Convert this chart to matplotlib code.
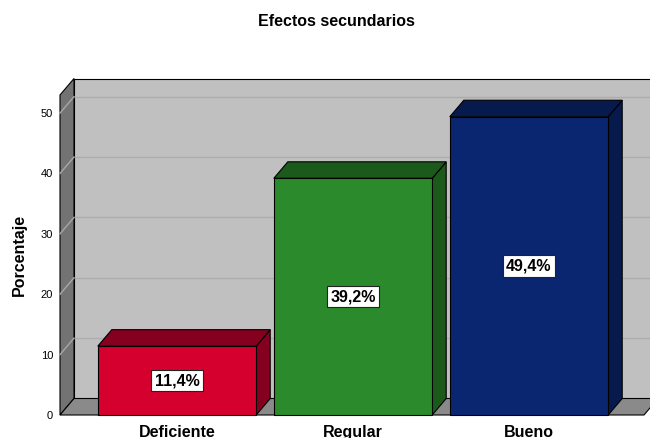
import matplotlib
matplotlib.use("Agg")
import matplotlib.pyplot as plt
from matplotlib.patches import Polygon, Rectangle

categories = ["Deficiente", "Regular", "Bueno"]
values = [11.4, 39.2, 49.4]
labels = ["11,4%", "39,2%", "49,4%"]
yticks = [0, 10, 20, 30, 40, 50]

front_colors = ["#d6002f", "#2b8a2b", "#0a2671"]
dark_colors = ["#85001f", "#1c5a1c", "#061a4e"]

plt.rcParams['font.family'] = ['Liberation Sans', 'DejaVu Sans']

W, H = 650, 438
fig = plt.figure(figsize=(W / 100, H / 100), dpi=100)
left_px, right_px, bottom_px, top_px = 60, 644, 415, 95
px_per_x = 176.0
xmin = -117 / px_per_x
xmax = xmin + (right_px - left_px) / px_per_x
ax = fig.add_axes([left_px / W, (H - bottom_px) / H, (right_px - left_px) / W, (bottom_px - top_px) / H])
ax.patch.set_alpha(0)
ymax = 53.0
ax.set_xlim(xmin, xmax)
ax.set_ylim(0, ymax)

px_per_y = (bottom_px - top_px) / ymax
dx = 14 / px_per_x
dy = 16.5 / px_per_y

lw = 0.8
# back wall
ax.add_patch(Rectangle((xmin + dx, dy), (xmax - xmin) + 1, ymax, facecolor="#c0c0c0",
                       edgecolor="black", lw=lw, clip_on=False, zorder=1))
for t in yticks[1:]:
    ax.plot([xmin + dx, xmax + 1], [t + dy, t + dy], color="#acacac", lw=1.0, clip_on=False, zorder=1.5)
    ax.plot([xmin, xmin + dx], [t, t + dy], color="#a8a8a8", lw=1.0, clip_on=False, zorder=2.5)
# left wall
ax.add_patch(Polygon([(xmin, 0), (xmin + dx, dy), (xmin + dx, ymax + dy), (xmin, ymax)],
                     closed=True, facecolor="#737373", edgecolor="black", lw=lw, clip_on=False, zorder=2))
# floor
ax.add_patch(Polygon([(xmin, 0), (xmax, 0), (xmax + dx, dy), (xmin + dx, dy)],
                     closed=True, facecolor="#8a8a8a", edgecolor="black", lw=lw, clip_on=False, zorder=2))

bw = 0.9
for i, (v, fc, dc, lab) in enumerate(zip(values, front_colors, dark_colors, labels)):
    x0, x1 = i - bw / 2, i + bw / 2
    ax.add_patch(Polygon([(x1, 0), (x1, v), (x1 + dx, v + dy), (x1 + dx, dy)], closed=True,
                         facecolor=dc, edgecolor="black", lw=lw, clip_on=False, zorder=3))
    ax.add_patch(Polygon([(x0, v), (x1, v), (x1 + dx, v + dy), (x0 + dx, v + dy)], closed=True,
                         facecolor=dc, edgecolor="black", lw=lw, clip_on=False, zorder=3))
    ax.add_patch(Rectangle((x0, 0), bw, v, facecolor=fc, edgecolor="black", lw=lw,
                           clip_on=False, zorder=4))
    ax.text(i, v / 2, lab, ha="center", va="center", fontsize=11.5, fontweight="bold", zorder=5,
            bbox=dict(boxstyle="square,pad=0.2", facecolor="white", edgecolor="#222222", lw=0.8))

for s in ax.spines.values():
    s.set_visible(False)
ax.set_xticks(range(len(categories)))
ax.set_xticklabels(categories, fontsize=11.5, fontweight="bold")
ax.set_yticks(yticks)
ax.set_yticklabels([str(t) for t in yticks], fontsize=8)
ax.tick_params(axis="x", length=0, pad=7)
ax.tick_params(axis="y", length=0, pad=5)
ax.set_ylabel("Porcentaje", fontsize=11.5, fontweight="bold", labelpad=10)

fig.text(336 / W, 1 - 22 / H, "Efectos secundarios", ha="center", va="center",
         fontsize=11.5, fontweight="bold")

fig.savefig("out.png", dpi=100)
